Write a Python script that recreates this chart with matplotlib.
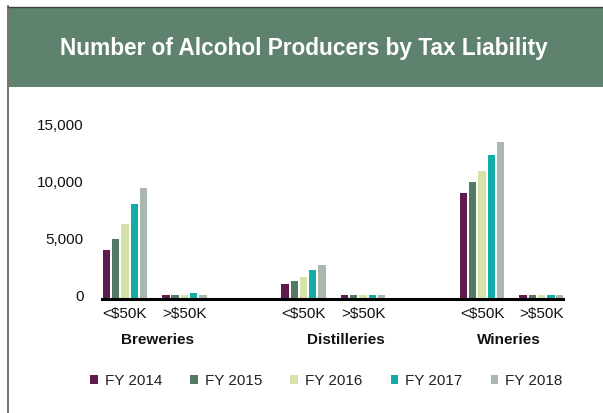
import matplotlib
matplotlib.use("Agg")
import matplotlib.pyplot as plt
import matplotlib.transforms as mtransforms
from matplotlib import font_manager
from matplotlib.patches import Rectangle
from matplotlib.lines import Line2D
import numpy as np

# Chart data
years = ["FY 2014", "FY 2015", "FY 2016", "FY 2017", "FY 2018"]
categories = ["<$50K", ">$50K", "<$50K", ">$50K", "<$50K", ">$50K"]
groups = ["Breweries", "Distilleries", "Wineries"]
fy2014 = [4200, 300, 1270, 320, 9200, 320]
fy2015 = [5200, 300, 1560, 320, 10170, 320]
fy2016 = [6500, 290, 1880, 320, 11130, 320]
fy2017 = [8250, 450, 2490, 320, 12550, 320]
fy2018 = [9650, 330, 2970, 320, 13670, 320]
yticks = [0, 5000, 10000, 15000]

colors = ["#5f1a4e", "#527a64", "#d6e2a9", "#13aca6", "#a9b8ad"]
header_color = "#5f826f"


def pick_font(names):
    for n in names:
        try:
            font_manager.findfont(font_manager.FontProperties(family=n), fallback_to_default=False)
            return n
        except Exception:
            continue
    return "DejaVu Sans"


body_font = pick_font(["Liberation Sans", "Arial", "DejaVu Sans"])
plt.rcParams["font.family"] = body_font

W, H = 603, 413
fig = plt.figure(figsize=(W / 100, H / 100), dpi=100)


def fx(px):
    return px / W


def fy(py):
    return 1 - py / H


# frame and header band
fig.add_artist(Rectangle((fx(8.5), fy(87)), 1 - fx(8.5), (87 - 7) / H,
                         transform=fig.transFigure, facecolor=header_color, edgecolor="none"))
fig.add_artist(Line2D([fx(7.5), fx(7.5)], [0, fy(6)], transform=fig.transFigure,
                      color="#555555", lw=1.2))
fig.add_artist(Line2D([fx(7.5), 1], [fy(6.5), fy(6.5)], transform=fig.transFigure,
                      color="#444444", lw=1.0))
fig.text(fx(304), fy(48), "Number of Alcohol Producers by Tax Liability",
         color="white", fontsize=16.3, fontweight="bold",
         ha="center", va="center")

# axes: zero line at y=298.5px, 15,000 at 127px
ax_left, ax_right = 101.7, 563
y0, y15 = 298.5, 127
ax = fig.add_axes([fx(ax_left), fy(y0), (ax_right - ax_left) / W, (y0 - y15) / H])

positions = np.array([0, 1, 3, 4, 6, 7])
series = [fy2014, fy2015, fy2016, fy2017, fy2018]
pitch = 0.156
width = 0.123
for i, (vals, c, lab) in enumerate(zip(series, colors, years)):
    ax.bar(positions + (i - 2) * pitch, vals, width=width, color=c, label=lab, zorder=2)

ax.set_xlim(-0.39, 7.36)
ax.set_ylim(0, 15000)
ax.set_yticks(yticks)
ax.set_yticklabels([f"{v:,}" for v in yticks])
ax.set_xticks(positions)
ax.set_xticklabels(categories)
ax.tick_params(axis="both", length=0, labelsize=11, colors="#111111")
ax.tick_params(axis="y", pad=13)
ax.tick_params(axis="x", pad=6)
for s in ["left", "right", "top"]:
    ax.spines[s].set_visible(False)
ax.spines["bottom"].set_linewidth(2.2)
ax.spines["bottom"].set_color("black")
ax.spines["bottom"].set_zorder(3)

offset = mtransforms.ScaledTranslation(0, 3 / 100, fig.dpi_scale_trans)
for lbl in ax.get_yticklabels():
    lbl.set_transform(lbl.get_transform() + offset)

# group labels
group_px = [158, 346, 509]
for g, px in zip(groups, group_px):
    fig.text(fx(px), fy(340), g, ha="center", va="center", fontsize=11,
             fontweight="bold", color="#111111")

leg = fig.legend(loc="center left", bbox_to_anchor=(fx(84), fy(381)), ncol=5,
                 frameon=False, fontsize=11, handlelength=0.5, handleheight=0.5,
                 handletextpad=0.45, columnspacing=1.85, borderaxespad=0)
for t in leg.get_texts():
    t.set_color("#222222")

fig.savefig("out.png", dpi=100)
